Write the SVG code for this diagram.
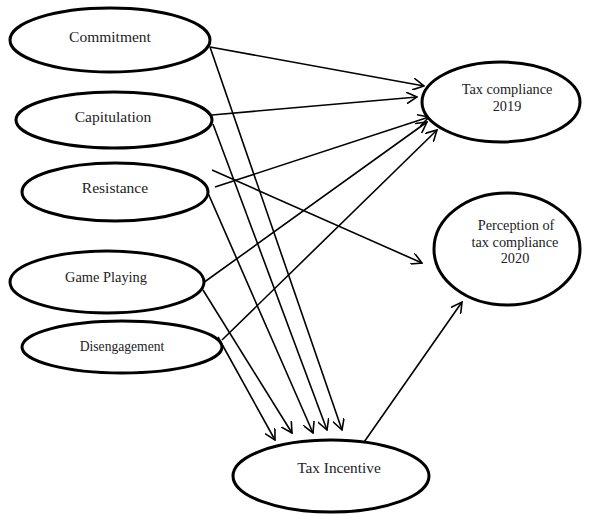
<svg xmlns="http://www.w3.org/2000/svg" width="590" height="514" viewBox="0 0 590 514">
<style>
.n{fill:#fff;stroke:#000;stroke-width:3}
.t{font-family:"Liberation Serif","Times New Roman",serif;fill:#222;text-anchor:middle}
.c line{stroke:#000;stroke-width:1.6;marker-end:url(#a)}
</style>
<defs>
<marker id="a" viewBox="0 0 12 12" refX="11" refY="6" markerWidth="12" markerHeight="12" markerUnits="userSpaceOnUse" orient="auto">
<path d="M0,0 L11,6 L0,12" fill="none" stroke="#000" stroke-width="1.6"/>
</marker>
</defs>
<rect width="590" height="514" fill="#fff"/>
<g class="c">
<line x1="210" y1="47" x2="424" y2="86"/>
<line x1="210" y1="47" x2="342" y2="430"/>
<line x1="212" y1="115" x2="417" y2="97"/>
<line x1="213" y1="124" x2="327" y2="430"/>
<line x1="215" y1="187" x2="429" y2="117"/>
<line x1="212" y1="170" x2="422" y2="263"/>
<line x1="208" y1="193" x2="313" y2="433"/>
<line x1="203" y1="283" x2="427" y2="122"/>
<line x1="203" y1="290" x2="292" y2="433"/>
<line x1="222" y1="340" x2="437" y2="130"/>
<line x1="218" y1="337" x2="275" y2="440"/>
<line x1="362" y1="445" x2="462" y2="302"/>
</g>
<g id="commitment"><ellipse class="n" cx="110" cy="40" rx="100" ry="32"/><text class="t" x="110" y="42" font-size="15.5">Commitment</text></g>
<g id="capitulation"><ellipse class="n" cx="114" cy="120" rx="98" ry="28"/><text class="t" x="113" y="122" font-size="15.5">Capitulation</text></g>
<g id="resistance"><ellipse class="n" cx="115" cy="192" rx="93" ry="29"/><text class="t" x="115" y="193" font-size="15.5">Resistance</text></g>
<g id="gameplaying"><ellipse class="n" cx="107" cy="282" rx="97" ry="31"/><text class="t" x="106" y="282" font-size="14.4">Game Playing</text></g>
<g id="disengagement"><ellipse class="n" cx="122" cy="347" rx="100" ry="26"/><text class="t" x="122" y="351" font-size="13.6">Disengagement</text></g>
<g id="taxcompliance2019"><ellipse class="n" cx="501" cy="102" rx="79" ry="40"/><text class="t" x="507" y="94" font-size="14.3">Tax compliance</text><text class="t" x="507" y="111" font-size="14.3">2019</text></g>
<g id="perception2020"><ellipse class="n" cx="507" cy="249" rx="73" ry="56"/><text class="t" x="516" y="230" font-size="14.3">Perception of</text><text class="t" x="515" y="247" font-size="14.3">tax compliance</text><text class="t" x="515" y="263" font-size="14.3">2020</text></g>
<g id="taxincentive"><ellipse class="n" cx="331" cy="476" rx="98" ry="36"/><text class="t" x="339" y="473" font-size="15.3">Tax Incentive</text></g>
</svg>
